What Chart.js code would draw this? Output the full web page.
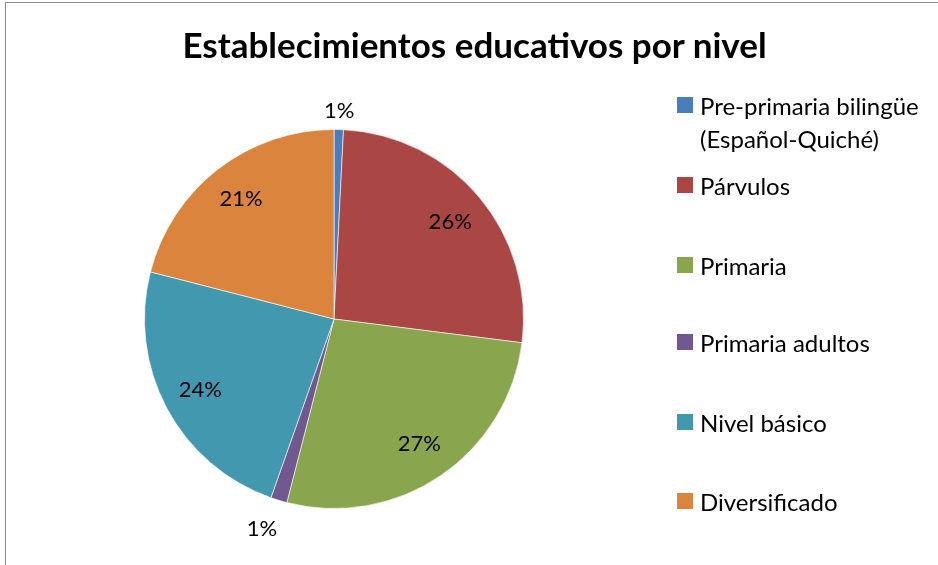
<!DOCTYPE html>
<html>
<head>
<meta charset="utf-8">
<script src="https://cdn.jsdelivr.net/npm/chart.js@4.4.0/dist/chart.umd.min.js"></script>
<style>
  html, body { margin: 0; padding: 0; background: #fff; }
  #wrap { position: relative; width: 938px; height: 565px; overflow: hidden; font-family: Lato, "Liberation Sans", sans-serif; }
  #frame { position: absolute; left: 5px; top: 2px; width: 1000px; height: 700px; border: 1px solid #8a8a8a; }
  #title { position: absolute; left: 160px; width: 629px; top: 23px; text-align: center; font-weight: bold; font-size: 35px; color: #000; }
  #legend { position: absolute; left: 677px; top: 0; margin: 0; padding: 0; list-style: none; }
  #legend li { position: absolute; left: 0; width: 260px; font-size: 24px; line-height: 33px; color: #000; }
  #legend .box { position: absolute; left: 0; top: 8px; width: 16px; height: 16px; }
  #legend .txt { position: absolute; left: 23px; top: 0; white-space: nowrap; }
  canvas { position: absolute; left: 0; top: 0; }
</style>
</head>
<body>
<div id="wrap">
  <div id="frame"></div>
  <canvas id="chart" width="938" height="565"></canvas>
  <div id="title">Establecimientos educativos por nivel</div>
  <ul id="legend"></ul>
</div>
<script>
// Data (share of establishments, %)
var categories = ['Pre-primaria bilingüe\n(Español-Quiché)', 'Párvulos', 'Primaria', 'Primaria adultos', 'Nivel básico', 'Diversificado'];
var shares = [0.8, 26.2, 27.0, 1.4, 23.6, 21.0];
var sliceColors = ['#4a7ebb', '#aa4643', '#89a54e', '#71588f', '#4198af', '#db843d'];

// Draws the percentage labels, inside for big slices and just outside for tiny ones
var percentLabels = {
    id: 'percentLabels',
    afterDatasetsDraw(chart) {
        var ctx = chart.ctx;
        var meta = chart.getDatasetMeta(0);
        var data = chart.data.datasets[0].data;
        var total = data.reduce((a, b) => a + b, 0);
        ctx.save();
        ctx.font = '22px Lato, "Liberation Sans", sans-serif';
        ctx.fillStyle = '#000';
        ctx.textAlign = 'center';
        ctx.textBaseline = 'middle';
        meta.data.forEach((arc, i) => {
            var pct = data[i] / total * 100;
            var mid = (arc.startAngle + arc.endAngle) / 2;
            var dist = pct < 5 ? arc.outerRadius * (i == 0 ? 1.1 : 1.16) : arc.outerRadius * 0.8;
            var x = arc.x + Math.cos(mid) * dist;
            var y = arc.y + Math.sin(mid) * dist;
            if (pct < 5 && i != 0) x -= 8; // outside label sits a bit to the left in the original
            ctx.fillText(Math.round(pct) + '%', x, y);
        });
        ctx.restore();
    }
};

var chartObj = new Chart(document.getElementById('chart'), {
    type: 'pie',
    data: {
        labels: categories,
        datasets: [{
            data: shares,
            backgroundColor: sliceColors,
            borderColor: 'rgba(255,255,255,0.6)',
            borderWidth: 1
        }]
    },
    options: {
        responsive: false,
        animation: false,
        layout: { padding: { left: 144, right: 414, top: 129, bottom: 56 } },
        plugins: {
            legend: { display: false },
            title: { display: false },
            tooltip: { enabled: false }
        }
    },
    plugins: [percentLabels]
});

// Legend built from the same arrays
var legendList = document.getElementById('legend');
var legendCenters = [105, 185, 265, 342, 422, 501];
categories.forEach((name, i) => {
    var li = document.createElement('li');
    li.style.top = (legendCenters[i] - 16) + 'px';
    var box = document.createElement('span');
    box.className = 'box';
    box.style.background = sliceColors[i];
    var txt = document.createElement('span');
    txt.className = 'txt';
    txt.innerHTML = name.split('\n').join('<br>');
    li.appendChild(box);
    li.appendChild(txt);
    legendList.appendChild(li);
});
</script>
</body>
</html>
